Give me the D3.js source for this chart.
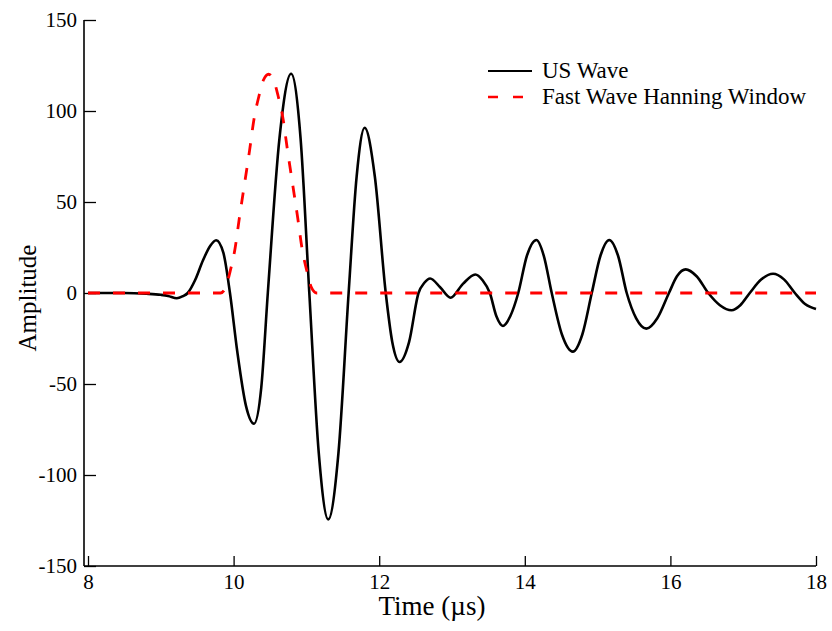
<!DOCTYPE html>
<html>
<head>
<meta charset="utf-8">
<script src="https://cdn.jsdelivr.net/npm/d3@7"></script>
<style>
  html, body { margin: 0; padding: 0; background: #fff; }
  svg { display: block; }
  text { font-family: "Liberation Serif", "Times New Roman", serif; fill: #000; }
</style>
</head>
<body>
<svg id="chart" width="832" height="631"></svg>
<script>
// ---- data ----
const xTicks = [8, 10, 12, 14, 16, 18];
const yTicks = [-150, -100, -50, 0, 50, 100, 150];

// US Wave (time in µs, amplitude)
const usTime = [8.0, 8.5, 8.8, 9.0, 9.1, 9.22, 9.3, 9.37, 9.47, 9.58, 9.68, 9.76, 9.86, 9.95, 10.05, 10.17, 10.28,
  10.38, 10.47, 10.63, 10.79, 10.92, 11.04, 11.17, 11.30, 11.44, 11.58, 11.69, 11.80, 11.94, 12.09, 12.18, 12.28,
  12.41, 12.54, 12.62, 12.70, 12.84, 12.98, 13.15, 13.32, 13.42, 13.52, 13.61, 13.70, 13.80, 13.91, 14.03, 14.16,
  14.26, 14.37, 14.51, 14.66, 14.79, 14.92, 15.04, 15.16, 15.28, 15.40, 15.53, 15.67, 15.82, 15.98, 16.09, 16.21,
  16.36, 16.52, 16.68, 16.84, 16.96, 17.09, 17.25, 17.41, 17.56, 17.71, 17.85, 18.0];
const usAmp = [0, 0, -0.4, -1.0, -1.6, -2.9, -1.8, 0, 7, 18, 26, 29, 22, 0, -32, -62, -71.8,
  -52, 0, 85, 120.5, 85, 0, -88, -124.4, -88, 0, 64, 90.8, 64, 0, -27, -37.9,
  -27, 0, 5.6, 8, 3, -2.6, 5, 10.2, 7, 0, -12.8, -18.1, -12.8, 0, 20.6, 29.1,
  20.6, 0, -22.8, -32.2, -22.8, 0, 20.6, 29.1, 20.6, 0, -13.9, -19.6, -13.9, 0, 9.2, 13,
  9.2, 0, -6.7, -9.5, -6.7, 0, 7.5, 10.6, 7.5, 0, -6, -8.8];

// Fast Wave Hanning Window
const hanTime = [8.0, 9.82, 9.89, 9.95, 10.02, 10.08, 10.15, 10.22, 10.28, 10.35, 10.41, 10.48,
  10.55, 10.61, 10.68, 10.74, 10.81, 10.88, 10.94, 11.01, 11.07, 11.14, 18.0];
const hanAmp = [0, 0, 2.9, 11.5, 24.5, 41.5, 60, 78.5, 95.5, 108.5, 117, 120.2,
  117, 108.5, 95.5, 78.5, 60, 41.5, 24.5, 11.5, 2.9, 0, 0];

const seriesNames = ["US Wave", "Fast Wave Hanning Window"];
const seriesColors = ["#000000", "#ff0000"];

// ---- drawing ----
const svg = d3.select("#chart");
const x = d3.scaleLinear().domain([8, 18]).range([88, 816]);
const y = d3.scaleLinear().domain([-150, 150]).range([566, 20]);
const axisX0 = 84;
const fmt = d => String(d); // plain hyphen-minus, as in the reference

// x axis
const gx = svg.append("g")
  .attr("transform", `translate(0,${y(-150)})`)
  .call(d3.axisBottom(x).tickValues(xTicks).tickFormat(fmt)
    .tickSizeInner(-10).tickSizeOuter(0).tickPadding(8));
gx.select(".domain").remove();
gx.selectAll(".tick line").attr("stroke", "#000").attr("stroke-width", 1.3);
gx.selectAll("text").attr("font-size", 21).attr("font-family", "Liberation Serif");
svg.append("line").attr("x1", axisX0).attr("x2", x(18)).attr("y1", y(-150)).attr("y2", y(-150))
  .attr("stroke", "#000").attr("stroke-width", 1.6);

// y axis
const gy = svg.append("g")
  .attr("transform", `translate(${axisX0},0)`)
  .call(d3.axisLeft(y).tickValues(yTicks).tickFormat(fmt)
    .tickSizeInner(-12).tickSizeOuter(0).tickPadding(7));
gy.select(".domain").remove();
gy.selectAll(".tick line").attr("stroke", "#000").attr("stroke-width", 1.3);
gy.selectAll("text").attr("font-size", 21).attr("font-family", "Liberation Serif");
svg.append("line").attr("x1", axisX0).attr("x2", axisX0).attr("y1", y(150)).attr("y2", y(-150))
  .attr("stroke", "#000").attr("stroke-width", 1.6);

// axis titles
svg.append("text").attr("x", 432).attr("y", 615).attr("text-anchor", "middle")
  .attr("font-size", 27).text("Time (µs)");
svg.append("text").attr("transform", "translate(36,298) rotate(-90)").attr("text-anchor", "middle")
  .attr("font-size", 25).text("Amplitude");

// lines
const line = d3.line().x(d => x(d[0])).y(d => y(d[1])).curve(d3.curveMonotoneX);
const usData = usTime.map((t, i) => [t, usAmp[i]]);
const hanData = hanTime.map((t, i) => [t, hanAmp[i]]);

svg.append("path").datum(usData).attr("d", line)
  .attr("fill", "none").attr("stroke", seriesColors[0]).attr("stroke-width", 2.6)
  .attr("stroke-linejoin", "round");
svg.append("path").datum(hanData).attr("d", line)
  .attr("fill", "none").attr("stroke", seriesColors[1]).attr("stroke-width", 2.8)
  .attr("stroke-dasharray", "12,13");

// legend
const lg = svg.append("g");
lg.append("line").attr("x1", 488).attr("x2", 532).attr("y1", 71).attr("y2", 71)
  .attr("stroke", seriesColors[0]).attr("stroke-width", 2);
lg.append("line").attr("x1", 488).attr("x2", 526).attr("y1", 97).attr("y2", 97)
  .attr("stroke", seriesColors[1]).attr("stroke-width", 2.6).attr("stroke-dasharray", "10,15");
lg.append("text").attr("x", 542).attr("y", 78).attr("font-size", 23).text(seriesNames[0]);
lg.append("text").attr("x", 542).attr("y", 104).attr("font-size", 23).text(seriesNames[1]);
</script>
</body>
</html>
